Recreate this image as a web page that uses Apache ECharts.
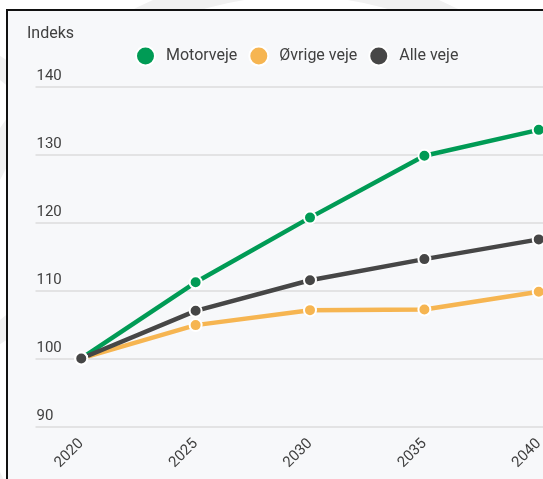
<!DOCTYPE html>
<html>
<head>
<meta charset="utf-8">
<script src="https://cdn.jsdelivr.net/npm/echarts@6/dist/echarts.min.js"></script>
<style>
  html, body { margin: 0; padding: 0; width: 543px; height: 479px; overflow: hidden; background: #ffffff; position: relative; }
  .ring { position: absolute; border-radius: 50%; border-style: solid; border-color: #f1f1f1; }
  #frame { position: absolute; left: 6px; top: 9px; width: 620px; height: 520px; border: 2px solid #111; background: #f7f8fa; box-sizing: border-box; }
  #chart { position: absolute; left: 0; top: 0; width: 543px; height: 479px; }
</style>
</head>
<body>
<div class="ring" style="left:-60px; top:-30px; width:660px; height:660px; border-width:26px;"></div>
<div class="ring" style="left:-260px; top:30px; width:300px; height:300px; border-width:20px;"></div>
<div id="frame"></div>
<div id="chart"></div>
<script>
const years = [2020, 2025, 2030, 2035, 2040];
const motorveje = [100, 111.2, 120.7, 129.8, 133.6];
const oevrigeVeje = [100, 104.9, 107.1, 107.2, 109.8];
const alleVeje = [100, 107.0, 111.5, 114.6, 117.5];
const seriesNames = ['Motorveje', 'Øvrige veje', 'Alle veje'];
const yTicks = [90, 100, 110, 120, 130, 140];

const colors = ['#009b55', '#f6b551', '#464646'];
const pair = arr => years.map((y, i) => [y, arr[i]]);

const chart = echarts.init(document.getElementById('chart'), null, { renderer: 'canvas' });
const textColor = '#404040';
const font = 'Roboto';

function mkSeries(name, data, color) {
  return {
    name: name,
    type: 'line',
    data: pair(data),
    symbol: 'circle',
    symbolSize: 12,
    lineStyle: { width: 4.5, color: color },
    itemStyle: { color: color, borderColor: '#ffffff', borderWidth: 2 },
    emphasis: { disabled: true },
    animation: false
  };
}

chart.setOption({
  animation: false,
  backgroundColor: 'transparent',
  color: colors,
  title: {
    text: 'Indeks',
    left: 22,
    top: 21,
    textStyle: { fontFamily: font, fontSize: 16, fontWeight: 'normal', color: textColor }
  },
  legend: {
    data: seriesNames,
    left: 130,
    top: 40.5,
    icon: 'circle',
    itemWidth: 19,
    itemHeight: 19,
    itemGap: 11,
    textStyle: { fontFamily: font, fontSize: 16, color: textColor, padding: [0, 0, 0, 6] }
  },
  grid: { left: 35.5, top: 86.3, bottom: 52.5, width: 549, containLabel: false, outerBoundsMode: 'none' },
  xAxis: {
    type: 'value',
    min: 2018,
    max: 2042,
    axisLine: { show: false },
    axisTick: { show: false },
    splitLine: { show: false },
    axisLabel: {
      customValues: years,
      rotate: 45,
      margin: 15,
      fontFamily: font,
      fontSize: 15,
      color: textColor,
      formatter: v => String(v)
    }
  },
  yAxis: {
    type: 'value',
    min: yTicks[0],
    max: yTicks[yTicks.length - 1],
    interval: 10,
    axisLine: { show: false },
    axisTick: { show: false },
    splitLine: { show: true, lineStyle: { color: '#dcdcdc', width: 1.5 } },
    axisLabel: {
      inside: true,
      margin: 1,
      verticalAlign: 'bottom',
      align: 'left',
      padding: [0, 0, 3, 0],
      fontFamily: font,
      fontSize: 15,
      color: textColor
    }
  },
  series: [
    mkSeries(seriesNames[0], motorveje, colors[0]),
    mkSeries(seriesNames[1], oevrigeVeje, colors[1]),
    mkSeries(seriesNames[2], alleVeje, colors[2])
  ]
});
</script>
</body>
</html>
